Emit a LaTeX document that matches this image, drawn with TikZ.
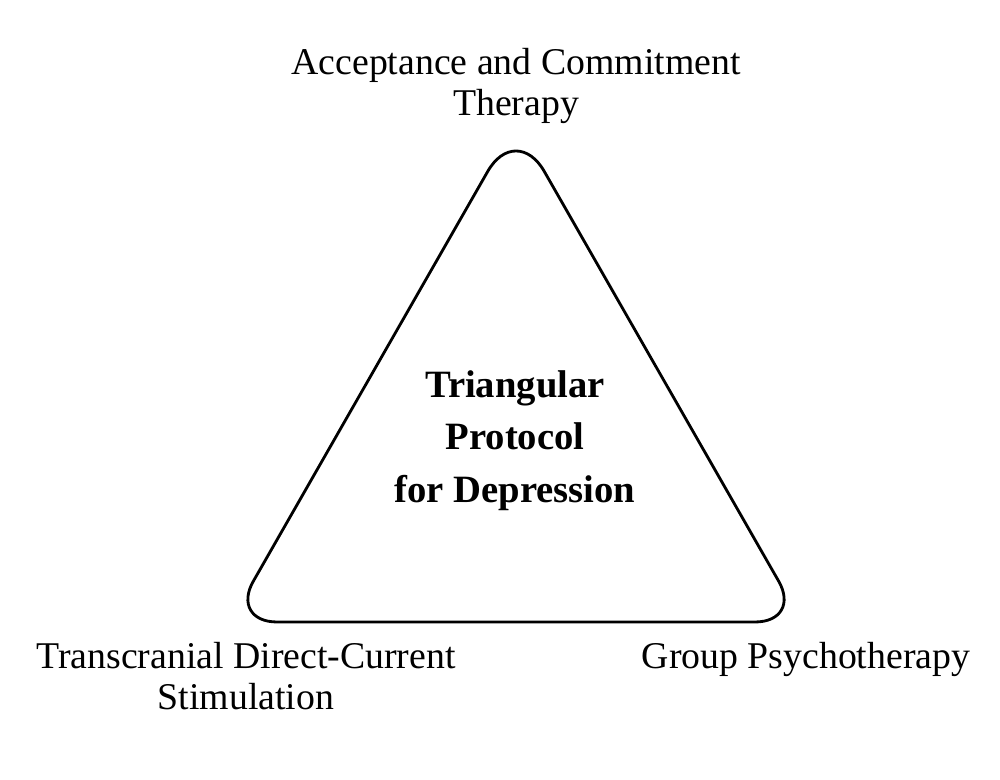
\documentclass[tikz,border=0pt]{standalone}
\usepackage{fontspec}
\setmainfont{Liberation Serif}
\usepackage{tikz}

\tikzset{
  label/.style={align=center, font=\fontsize{21.5}{23}\selectfont},
  title/.style={align=center, font=\fontsize{22}{30}\selectfont\bfseries},
  tri/.style={line width=1.6pt, rounded corners=0.94cm}
}

\begin{document}
\begin{tikzpicture}
  \useasboundingbox (0,0) rectangle (20,15.6);

  \coordinate (left) at (4.6,3.16);
  \coordinate (right) at (16.04,3.16);
  \coordinate (apex) at (10.32,13.16);
  \coordinate (base) at (10.32,3.16);

  \draw[tri] (base) -- (right) [rounded corners=1.14cm] -- (apex)
    [rounded corners=0.94cm] -- (left) -- cycle;

  \node[title] (protocol) at (10.3,6.79) {Triangular\\Protocol\\for Depression};

  \node[label] (act) at (10.32,13.88) {Acceptance and Commitment\\Therapy};
  \node[label] (tdcs) at (4.92,2.08) {Transcranial Direct-Current\\Stimulation};
  \node[label] (group) at (16.12,2.42) {Group Psychotherapy};

\end{tikzpicture}
\end{document}
